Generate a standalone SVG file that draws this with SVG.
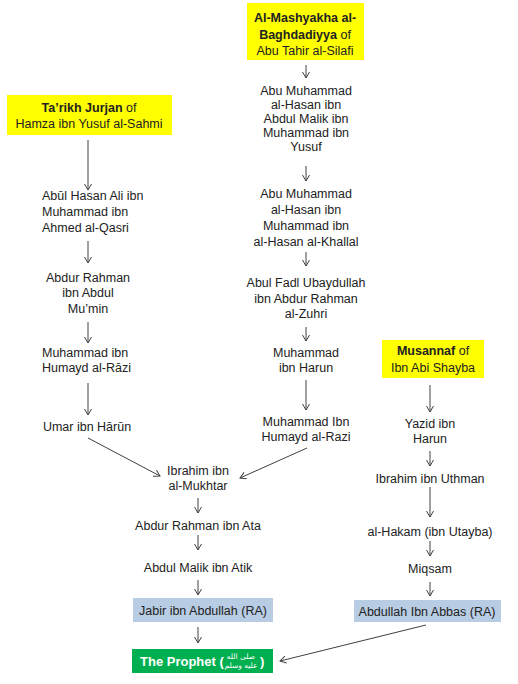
<svg xmlns="http://www.w3.org/2000/svg" width="518" height="684" viewBox="0 0 518 684">
<defs>
<marker id="arr" viewBox="-7 -4 8 8" refX="0" refY="0" markerWidth="8" markerHeight="8" markerUnits="userSpaceOnUse" orient="auto">
<path d="M-6,-3.5 L0,0 L-6,3.5" fill="none" stroke="#404040" stroke-width="1"/>
</marker>
<style>
text{font-family:"Liberation Sans","DejaVu Sans",sans-serif;font-size:12.5px;fill:#222}
.c{text-anchor:middle}
.b{font-weight:bold}
.src{fill:#ffff00}
.comp{fill:#b8cce4}
.conn line{stroke:#404040;stroke-width:1;marker-end:url(#arr)}
.ar{font-family:"DejaVu Sans",sans-serif;font-size:7.5px;fill:#fff;text-anchor:middle}
</style>
</defs>
<rect width="518" height="684" fill="#fff"/>

<g id="src-jurjan">
<rect class="src" x="7" y="95" width="165" height="40"/>
<text class="c" x="89" y="112"><tspan class="b">Ta’rikh Jurjan</tspan> of</text>
<text class="c" x="89" y="128">Hamza ibn Yusuf al-Sahmi</text>
</g>
<g id="src-mashyakha">
<rect class="src" x="247" y="3" width="117" height="57"/>
<text class="c b" x="305" y="22">Al-Mashyakha al-</text>
<text class="c" x="305" y="39"><tspan class="b">Baghdadiyya</tspan> of</text>
<text class="c" x="305" y="55">Abu Tahir al-Silafi</text>
</g>
<g id="src-musannaf">
<rect class="src" x="382" y="340" width="102" height="38"/>
<text class="c" x="433" y="355"><tspan class="b">Musannaf</tspan> of</text>
<text class="c" x="433" y="372">Ibn Abi Shayba</text>
</g>

<g id="n-qasri">
<text x="42" y="199.5">Abūl Hasan Ali ibn</text>
<text x="42" y="215.5">Muhammad ibn</text>
<text x="42" y="231.5">Ahmed al-Qasri</text>
</g>
<g id="n-abdurrahman-mumin">
<text class="c" x="88" y="281.5">Abdur Rahman</text>
<text class="c" x="88" y="296.5">ibn Abdul</text>
<text class="c" x="88" y="312.5">Mu’min</text>
</g>
<g id="n-razi-left">
<text x="42" y="356.5">Muhammad ibn</text>
<text x="42" y="371.5">Humayd al-Rāzi</text>
</g>
<g id="n-umar">
<text class="c" x="87" y="430.5">Umar ibn Hārūn</text>
</g>

<g id="n-abumuhammad1">
<text class="c" x="306" y="95">Abu Muhammad</text>
<text class="c" x="306" y="109">al-Hasan ibn</text>
<text class="c" x="306" y="123">Abdul Malik ibn</text>
<text class="c" x="306" y="137">Muhammad ibn</text>
<text class="c" x="306" y="151">Yusuf</text>
</g>
<g id="n-khallal">
<text class="c" x="306" y="197.5">Abu Muhammad</text>
<text class="c" x="306" y="213.5">al-Hasan ibn</text>
<text class="c" x="306" y="229.5">Muhammad ibn</text>
<text class="c" x="306" y="246">al-Hasan al-Khallal</text>
</g>
<g id="n-zuhri">
<text class="c" x="306" y="286.5">Abul Fadl Ubaydullah</text>
<text class="c" x="306" y="302.5">ibn Abdur Rahman</text>
<text class="c" x="306" y="318">al-Zuhri</text>
</g>
<g id="n-harun">
<text class="c" x="306" y="356.5">Muhammad</text>
<text class="c" x="306" y="371.5">ibn Harun</text>
</g>
<g id="n-razi-mid">
<text class="c" x="306" y="425.5">Muhammad Ibn</text>
<text class="c" x="306" y="440.5">Humayd al-Razi</text>
</g>

<g id="n-mukhtar">
<text class="c" x="198" y="474.5">Ibrahim ibn</text>
<text class="c" x="198" y="489.5">al-Mukhtar</text>
</g>
<g id="n-ata">
<text class="c" x="198" y="529.5">Abdur Rahman ibn Ata</text>
</g>
<g id="n-atik">
<text class="c" x="198" y="571.5">Abdul Malik ibn Atik</text>
</g>
<g id="n-jabir">
<rect class="comp" x="133" y="598" width="140" height="24"/>
<text class="c" x="203" y="614.5">Jabir ibn Abdullah (RA)</text>
</g>

<g id="n-yazid">
<text class="c" x="430" y="427.5">Yazid ibn</text>
<text class="c" x="430" y="442.5">Harun</text>
</g>
<g id="n-uthman">
<text class="c" x="430" y="482.5">Ibrahim ibn Uthman</text>
</g>
<g id="n-hakam">
<text class="c" x="430" y="535.5">al-Hakam (ibn Utayba)</text>
</g>
<g id="n-miqsam">
<text class="c" x="430" y="572.5">Miqsam</text>
</g>
<g id="n-abbas">
<rect class="comp" x="354" y="600" width="147" height="22"/>
<text class="c" x="427" y="615.5">Abdullah Ibn Abbas (RA)</text>
</g>

<g id="n-prophet">
<rect x="132" y="649" width="141" height="24" fill="#00b050"/>
<text class="b" x="140" y="666" style="font-size:13px;fill:#fff">The Prophet (</text>
<text class="ar" x="241" y="658.5">صلى الله</text>
<text class="ar" x="241" y="667.5">عليه وسلم</text>
<text class="b" x="260" y="666" style="font-size:13px;fill:#fff">)</text>
</g>

<g id="connectors" class="conn">
<line x1="88" y1="140" x2="88" y2="190"/>
<line x1="88" y1="241" x2="88" y2="263"/>
<line x1="88" y1="322" x2="88" y2="343"/>
<line x1="88" y1="383" x2="88" y2="415"/>
<line x1="88" y1="438" x2="160" y2="476"/>
<line x1="306" y1="65" x2="306" y2="78"/>
<line x1="306" y1="166" x2="306" y2="181"/>
<line x1="306" y1="252" x2="306" y2="266"/>
<line x1="306" y1="327" x2="306" y2="341"/>
<line x1="306" y1="380" x2="306" y2="410"/>
<line x1="307" y1="448" x2="240" y2="478"/>
<line x1="198" y1="498" x2="198" y2="513"/>
<line x1="198" y1="535" x2="198" y2="550"/>
<line x1="198" y1="580" x2="198" y2="595"/>
<line x1="198" y1="627" x2="198" y2="643"/>
<line x1="430" y1="385" x2="430" y2="412"/>
<line x1="430" y1="451" x2="430" y2="466"/>
<line x1="430" y1="487" x2="430" y2="517"/>
<line x1="430" y1="541" x2="430" y2="556"/>
<line x1="430" y1="582" x2="430" y2="596"/>
<line x1="426" y1="625" x2="280" y2="661"/>
</g>
</svg>
